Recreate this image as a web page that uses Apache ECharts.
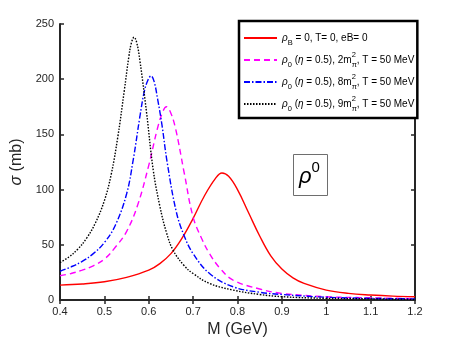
<!DOCTYPE html>
<html>
<head>
<meta charset="utf-8">
<script src="https://cdn.jsdelivr.net/npm/echarts@6/dist/echarts.min.js"></script>
<style>
  html, body { margin: 0; padding: 0; background: #fff; }
  #main { width: 458px; height: 343px; }
</style>
</head>
<body>
<div id="main"></div>
<script>
// values, M in GeV, sigma in mb
var mRed = [0.40, 0.45, 0.50, 0.55, 0.60, 0.625, 0.65, 0.675, 0.70, 0.725, 0.75, 0.765, 0.78, 0.80, 0.825, 0.85, 0.875, 0.90, 0.925, 0.95, 1.00, 1.05, 1.10, 1.15, 1.20];
var sRed = [13.5, 14.5, 16.5, 20.5, 27, 33, 42, 56, 74, 94, 110, 115, 112, 100, 79, 58, 40, 28, 20, 15, 9, 6, 4.5, 3.5, 3];

var mMag = [0.40, 0.425, 0.45, 0.475, 0.50, 0.525, 0.55, 0.575, 0.60, 0.62, 0.632, 0.64, 0.648, 0.66, 0.68, 0.70, 0.72, 0.737, 0.76, 0.79, 0.85, 0.90, 1.00, 1.10, 1.20];
var sMag = [22, 24, 27, 31, 37, 48, 62, 86, 122, 156, 171, 175, 171, 156, 115, 75, 55, 42, 29, 18, 10, 6, 3, 2, 1.2];

var mBlue = [0.40, 0.425, 0.45, 0.475, 0.50, 0.525, 0.55, 0.565, 0.58, 0.59, 0.598, 0.605, 0.612, 0.62, 0.63, 0.641, 0.662, 0.68, 0.70, 0.737, 0.79, 0.85, 0.90, 1.00, 1.10, 1.20];
var sBlue = [26, 30, 35, 42, 52, 68, 96, 127, 166, 189, 199, 203, 198, 182, 158, 126, 80, 58, 42, 24, 12, 7, 5, 2.5, 1.5, 1];

var mBlk = [0.40, 0.42, 0.44, 0.46, 0.48, 0.50, 0.515, 0.53, 0.545, 0.555, 0.561, 0.567, 0.573, 0.58, 0.595, 0.61, 0.625, 0.64, 0.655, 0.68, 0.70, 0.737, 0.79, 0.85, 0.90, 1.00, 1.10, 1.20];
var sBlk = [34, 39, 46, 56, 70, 90, 113, 147, 190, 220, 233, 238, 233, 217, 170, 118, 85, 61, 45, 31, 24, 15, 9, 5, 3, 1.5, 1, 0.5];

var names = ['rhoB', 'eB2', 'eB8', 'eB9'];
var legendText = [
    '{it|ρ}{sub|B} = 0, T= 0, eB= 0',
    '{it|ρ}{sub|0} ({it|η} = 0.5), 2m{sup|2}{sub|π}, T = 50 MeV',
    '{it|ρ}{sub|0} ({it|η} = 0.5), 8m{sup|2}{sub|π}, T = 50 MeV',
    '{it|ρ}{sub|0} ({it|η} = 0.5), 9m{sup|2}{sub|π}, T = 50 MeV'
];

function pairs(xs, ys) {
    var out = [];
    for (var i = 0; i < xs.length; i++) {
        out.push([xs[i], ys[i]]);
    }
    return out;
}

var axisCol = '#262626';
var font = 'Liberation Sans, Arial, sans-serif';

var myChart = echarts.init(document.getElementById('main'));

function mkLine(name, xs, ys, color, type) {
    return {
        name: name,
        type: 'line',
        symbol: 'none',
        smooth: 0.4,
        data: pairs(xs, ys),
        lineStyle: { color: color, width: 1.4, type: type },
        itemStyle: { color: color },
        z: 3
    };
}

var option = {
    animation: false,
    backgroundColor: '#fff',
    grid: { left: 60, right: 43, top: 24, bottom: 43 },
    title: {
        text: '{r|ρ}{s|0}',
        left: 293,
        top: 154,
        padding: [6, 8, 8, 6],
        borderColor: '#6e6e6e',
        borderWidth: 1,
        backgroundColor: '#fff',
        textStyle: {
            fontWeight: 'normal',
            rich: {
                r: { fontSize: 22, fontStyle: 'italic', fontWeight: 'normal', fontFamily: font, color: '#000', verticalAlign: 'bottom', lineHeight: 28 },
                s: { fontSize: 15, fontWeight: 'normal', fontFamily: font, color: '#000', verticalAlign: 'top', lineHeight: 28 }
            }
        }
    },
    legend: {
        left: 239,
        top: 21,
        orient: 'vertical',
        data: names,
        itemWidth: 33,
        itemHeight: 8,
        itemGap: 4,
        padding: [8, 3, 5, 4],
        borderColor: '#000',
        borderWidth: 2.5,
        backgroundColor: '#fff',
        itemStyle: { opacity: 0 },
        formatter: function (n) {
            return legendText[names.indexOf(n)];
        },
        textStyle: {
            fontSize: 10,
            fontFamily: font,
            color: '#000',
            lineHeight: 18,
            rich: {
                it: { fontSize: 10, fontStyle: 'italic', fontFamily: font, color: '#000', lineHeight: 18 },
                sub: { fontSize: 7.5, fontFamily: font, color: '#000', verticalAlign: 'bottom', lineHeight: 18 },
                sup: { fontSize: 7.5, fontFamily: font, color: '#000', verticalAlign: 'top', lineHeight: 18, width: 0 }
            }
        }
    },
    xAxis: [{
        type: 'value',
        min: 0.4,
        max: 1.2,
        interval: 0.1,
        name: 'M (GeV)',
        nameLocation: 'middle',
        nameGap: 22,
        nameTextStyle: { fontSize: 16, fontFamily: font, color: axisCol },
        axisLine: { show: true, onZero: false, lineStyle: { color: axisCol, width: 2 } },
        axisTick: { inside: true, length: 4, lineStyle: { color: axisCol, width: 1.5 } },
        axisLabel: { fontSize: 11, fontFamily: font, color: axisCol, margin: 6 },
        splitLine: { show: false }
    }, {
        type: 'value',
        position: 'top',
        min: 0.4,
        max: 1.2,
        interval: 0.1,
        axisLine: { show: true, lineStyle: { color: axisCol, width: 2 } },
        axisTick: { inside: true, length: 4, lineStyle: { color: axisCol, width: 1.5 } },
        axisLabel: { show: false },
        splitLine: { show: false }
    }],
    yAxis: [{
        type: 'value',
        min: 0,
        max: 250,
        interval: 50,
        name: '{it|σ} (mb)',
        nameLocation: 'middle',
        nameGap: 27,
        nameTextStyle: {
            fontSize: 16, fontFamily: font, color: axisCol,
            rich: { it: { fontSize: 16, fontStyle: 'italic', fontFamily: font, color: axisCol } }
        },
        axisLine: { show: true, onZero: false, lineStyle: { color: axisCol, width: 2 } },
        axisTick: { inside: true, length: 4, lineStyle: { color: axisCol, width: 1.5 } },
        axisLabel: { fontSize: 11, fontFamily: font, color: axisCol, margin: 6 },
        splitLine: { show: false }
    }, {
        type: 'value',
        position: 'right',
        min: 0,
        max: 250,
        interval: 50,
        axisLine: { show: true, lineStyle: { color: axisCol, width: 2 } },
        axisTick: { inside: true, length: 4, lineStyle: { color: axisCol, width: 1.5 } },
        axisLabel: { show: false },
        splitLine: { show: false }
    }],
    series: [
        mkLine(names[0], mRed, sRed, '#ff0000', 'solid'),
        mkLine(names[1], mMag, sMag, '#ff00ff', [6, 4]),
        mkLine(names[2], mBlue, sBlue, '#0000ff', [6, 2, 1.5, 2]),
        mkLine(names[3], mBlk, sBlk, '#000000', [1.5, 1.5])
    ]
};
myChart.setOption(option);
</script>
</body>
</html>
